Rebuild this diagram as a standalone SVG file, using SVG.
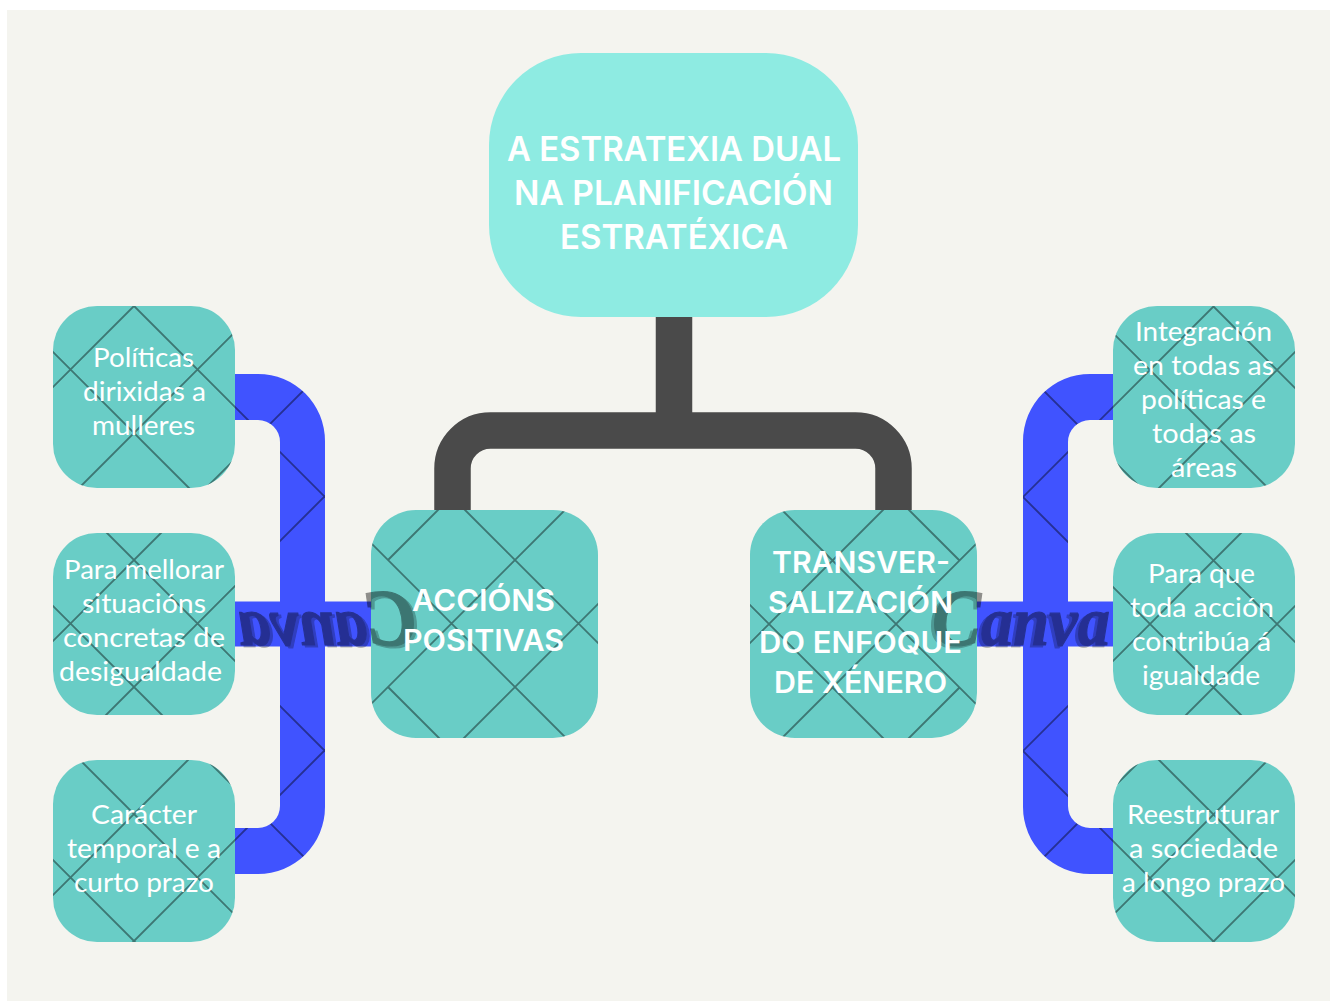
<svg xmlns="http://www.w3.org/2000/svg" width="1330" height="1001" viewBox="0 0 1330 1001">
<style>
.leaf{fill:#69cdc6}
.top{fill:#8eebe2}
.blue{fill:#4053ff}
.dark{fill:none;stroke:#4a4a4a;stroke-width:36.5}
.hatch{fill:none;stroke:#000;stroke-opacity:.42;stroke-width:1.9}
text{fill:#fff}
.t{font-family:"Lato","Open Sans",sans-serif;font-size:26.5px;font-weight:400}
.m{font-family:"Inter","Liberation Sans",sans-serif;font-size:29.5px;font-weight:600}
.h{font-family:"Inter","Liberation Sans",sans-serif;font-size:33.5px;font-weight:600}
.wm{font-family:"Liberation Serif",serif;font-style:italic;font-weight:700;font-size:70px;fill:#000;stroke:#000;stroke-width:1.2;opacity:.42;filter:url(#wmShadow)}
.wc{font-size:80px}
</style>
<defs>
<filter id="wmShadow" x="-10%" y="-20%" width="120%" height="140%">
<feOffset in="SourceAlpha" dx="-3" dy="2" result="o"/>
<feComponentTransfer in="o" result="s"><feFuncA type="linear" slope=".6"/></feComponentTransfer>
<feMerge><feMergeNode in="s"/><feMergeNode in="SourceGraphic"/></feMerge>
</filter>
<path id="blueL" d="M235 374H258A67 67 0 0 1 325 441V601.5H371V646.5H325V807A67 67 0 0 1 258 874H235V828H258A22 22 0 0 0 280 806V646.5H235V601.5H280V442A22 22 0 0 0 258 420H235Z"/>
<path id="blueR" d="M1113 374H1090A67 67 0 0 0 1023 441V601.5H977V646.5H1023V807A67 67 0 0 0 1090 874H1113V828H1090A22 22 0 0 1 1068 806V646.5H1113V601.5H1068V442A22 22 0 0 1 1090 420H1113Z"/>
<path id="latL" class="hatch" d="M-507 300L143 950M-380 300L270 950M-253 300L397 950M-126 300L524 950M1 300L261 560M388 687L651 950M128 300L778 950M255 300L905 950M382 300L1032 950M509 300L1159 950M140 300L-510 950M267 300L-383 950M394 300L-256 950M521 300L-129 950M648 300L388 560M261 687L-2 950M775 300L125 950M902 300L252 950M1029 300L379 950M1156 300L506 950"/>
<path id="latR" class="hatch" d="M191 300L841 950M318 300L968 950M445 300L1095 950M572 300L1222 950M699 300L960 561M1086 687L1349 950M826 300L1476 950M953 300L1603 950M1080 300L1730 950M1207 300L1857 950M839 300L189 950M966 300L316 950M1093 300L443 950M1220 300L570 950M1347 300L1086 561M960 687L697 950M1474 300L824 950M1601 300L951 950M1728 300L1078 950M1855 300L1205 950"/>
<clipPath id="cBL"><use href="#blueL"/></clipPath>
<clipPath id="cBR"><use href="#blueR"/></clipPath>
<clipPath id="cA"><rect x="371" y="510" width="227" height="228" rx="45"/></clipPath>
<clipPath id="cB"><rect x="750" y="510" width="227" height="228" rx="45"/></clipPath>
<clipPath id="c1"><rect x="53" y="306" width="182" height="182" rx="44"/></clipPath>
<clipPath id="c2"><rect x="53" y="533" width="182" height="182" rx="44"/></clipPath>
<clipPath id="c3"><rect x="53" y="760" width="182" height="182" rx="44"/></clipPath>
<clipPath id="c4"><rect x="1113" y="306" width="182" height="182" rx="44"/></clipPath>
<clipPath id="c5"><rect x="1113" y="533" width="182" height="182" rx="44"/></clipPath>
<clipPath id="c6"><rect x="1113" y="760" width="182" height="182" rx="44"/></clipPath>
</defs>
<rect width="1330" height="1001" fill="#fff"/>
<rect x="7" y="10" width="1323" height="991" fill="#f4f4ef"/>
<g id="connectors">
<path class="dark" d="M452.5 510V468.5A38 38 0 0 1 490.5 430.5H855.5A38 38 0 0 1 893.5 468.5V510M674 317V430.5"/>
<use href="#blueL" class="blue"/>
<use href="#latL" clip-path="url(#cBL)"/>
<use href="#blueR" class="blue"/>
<use href="#latR" clip-path="url(#cBR)"/>
</g>
<g id="node-title">
<rect class="top" x="489" y="53" width="369" height="264" rx="92"/>
<text class="h" x="507" y="161" textLength="334" lengthAdjust="spacingAndGlyphs">A ESTRATEXIA DUAL</text>
<text class="h" x="514" y="205" textLength="319" lengthAdjust="spacingAndGlyphs">NA PLANIFICACIÓN</text>
<text class="h" x="560" y="249" textLength="228" lengthAdjust="spacingAndGlyphs">ESTRATÉXICA</text>
</g>
<g id="node-accions">
<rect class="leaf" x="371" y="510" width="227" height="228" rx="45"/>
<use href="#latL" clip-path="url(#cA)"/>
<g transform="matrix(-1 0 0 1 1348 0)">
<text class="wm" x="932" y="645" textLength="178" lengthAdjust="spacingAndGlyphs"><tspan class="wc">C</tspan>anva</text>
</g>
<text class="m" x="412" y="611" textLength="143" lengthAdjust="spacingAndGlyphs">ACCIÓNS</text>
<text class="m" x="403" y="651" textLength="161" lengthAdjust="spacingAndGlyphs">POSITIVAS</text>
</g>
<g id="node-transversalizacion">
<rect class="leaf" x="750" y="510" width="227" height="228" rx="45"/>
<use href="#latR" clip-path="url(#cB)"/>
<text class="wm" x="932" y="645" textLength="178" lengthAdjust="spacingAndGlyphs"><tspan class="wc">C</tspan>anva</text>
<text class="m" x="772" y="573" textLength="178" lengthAdjust="spacingAndGlyphs">TRANSVER-</text>
<text class="m" x="768" y="613" textLength="185" lengthAdjust="spacingAndGlyphs">SALIZACIÓN</text>
<text class="m" x="759" y="653" textLength="203" lengthAdjust="spacingAndGlyphs">DO ENFOQUE</text>
<text class="m" x="774" y="693" textLength="173" lengthAdjust="spacingAndGlyphs">DE XÉNERO</text>
</g>
<g id="node-politicas">
<rect class="leaf" x="53" y="306" width="182" height="182" rx="44"/>
<use href="#latL" clip-path="url(#c1)"/>
<text class="t" x="93" y="367" textLength="101" lengthAdjust="spacingAndGlyphs">Políticas</text>
<text class="t" x="83" y="401" textLength="123" lengthAdjust="spacingAndGlyphs">dirixidas a</text>
<text class="t" x="92" y="435" textLength="103" lengthAdjust="spacingAndGlyphs">mulleres</text>
</g>
<g id="node-mellorar">
<rect class="leaf" x="53" y="533" width="182" height="182" rx="44"/>
<use href="#latL" clip-path="url(#c2)"/>
<text class="t" x="64" y="578.5" textLength="160" lengthAdjust="spacingAndGlyphs">Para mellorar</text>
<text class="t" x="82" y="612.5" textLength="124" lengthAdjust="spacingAndGlyphs">situacións</text>
<text class="t" x="63" y="646.5" textLength="162" lengthAdjust="spacingAndGlyphs">concretas de</text>
<text class="t" x="59" y="680.5" textLength="163" lengthAdjust="spacingAndGlyphs">desigualdade</text>
</g>
<g id="node-temporal">
<rect class="leaf" x="53" y="760" width="182" height="182" rx="44"/>
<use href="#latL" clip-path="url(#c3)"/>
<text class="t" x="91" y="824" textLength="106" lengthAdjust="spacingAndGlyphs">Carácter</text>
<text class="t" x="67" y="858" textLength="154" lengthAdjust="spacingAndGlyphs">temporal e a</text>
<text class="t" x="74" y="892" textLength="140" lengthAdjust="spacingAndGlyphs">curto prazo</text>
</g>
<g id="node-integracion">
<rect class="leaf" x="1113" y="306" width="182" height="182" rx="44"/>
<use href="#latR" clip-path="url(#c4)"/>
<text class="t" x="1135" y="340.5" textLength="137" lengthAdjust="spacingAndGlyphs">Integración</text>
<text class="t" x="1133" y="374.5" textLength="141" lengthAdjust="spacingAndGlyphs">en todas as</text>
<text class="t" x="1141" y="408.5" textLength="125" lengthAdjust="spacingAndGlyphs">políticas e</text>
<text class="t" x="1152" y="442.5" textLength="104" lengthAdjust="spacingAndGlyphs">todas as</text>
<text class="t" x="1171" y="477" textLength="66" lengthAdjust="spacingAndGlyphs">áreas</text>
</g>
<g id="node-igualdade">
<rect class="leaf" x="1113" y="533" width="182" height="182" rx="44"/>
<use href="#latR" clip-path="url(#c5)"/>
<text class="t" x="1148" y="583" textLength="107" lengthAdjust="spacingAndGlyphs">Para que</text>
<text class="t" x="1130" y="617" textLength="144" lengthAdjust="spacingAndGlyphs">toda acción</text>
<text class="t" x="1132" y="651" textLength="139" lengthAdjust="spacingAndGlyphs">contribúa á</text>
<text class="t" x="1142" y="685" textLength="118" lengthAdjust="spacingAndGlyphs">igualdade</text>
</g>
<g id="node-reestruturar">
<rect class="leaf" x="1113" y="760" width="182" height="182" rx="44"/>
<use href="#latR" clip-path="url(#c6)"/>
<text class="t" x="1127" y="824" textLength="152" lengthAdjust="spacingAndGlyphs">Reestruturar</text>
<text class="t" x="1129" y="858" textLength="149" lengthAdjust="spacingAndGlyphs">a sociedade</text>
<text class="t" x="1122" y="892" textLength="163" lengthAdjust="spacingAndGlyphs">a longo prazo</text>
</g>
</svg>
